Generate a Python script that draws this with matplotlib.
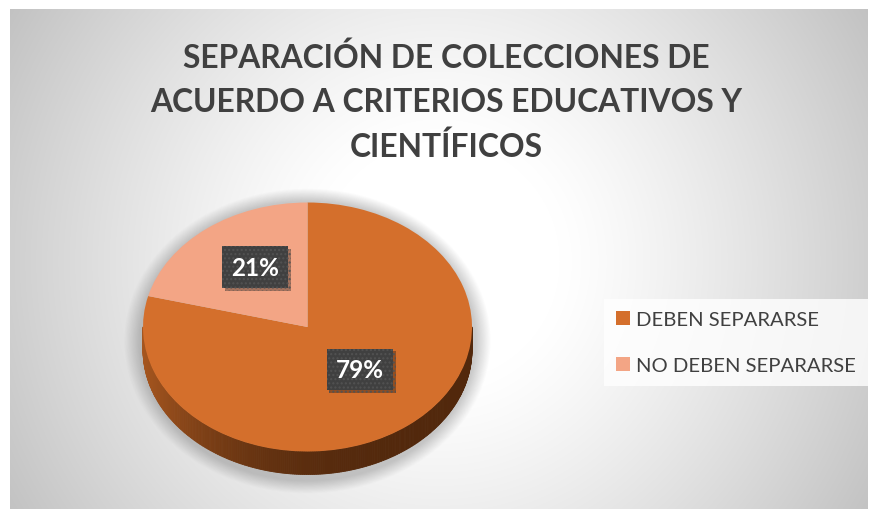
import numpy as np
import matplotlib
matplotlib.use("Agg")
import matplotlib.pyplot as plt
from matplotlib import patheffects as pe
from matplotlib.collections import PolyCollection
from matplotlib.colors import to_rgb

# ---------------- data ----------------
title_lines = ["SEPARACIÓN DE COLECCIONES DE",
               "ACUERDO A CRITERIOS EDUCATIVOS Y",
               "CIENTÍFICOS"]
categories = ["DEBEN SEPARARSE", "NO DEBEN SEPARARSE"]
values = [79, 21]

# ---------------- style ----------------
top_colors = ["#d46f2c", "#f3a585"]
side_dark = ["#52280c", "#8a4a33"]
side_light = ["#a6561f", "#c07a5e"]
text_color = "#404040"

plt.rcParams["font.family"] = ["Lato", "DejaVu Sans"]

W, H = 870, 510
fig = plt.figure(figsize=(W / 100, H / 100), dpi=100)
fig.patch.set_facecolor("white")

# ---------------- background (radial gradient chart area) ----------------
bx0, by0, bx1, by1 = 10, 10, 868, 510
bg = fig.add_axes([bx0 / W, 1 - by1 / H, (bx1 - bx0) / W, (by1 - by0) / H])
bg.set_axis_off()
yy, xx = np.mgrid[by0:by1, bx0:bx1].astype(float)
d = np.hypot(xx - 439, yy - 262)
t = np.clip((d - 120) / 380, 0, 1) ** 1.2
g = 1 - 0.24 * t
bg.imshow(np.dstack([g, g, g]), extent=(0, 1, 0, 1), aspect="auto",
          origin="upper", interpolation="bilinear")
bg.set_xlim(0, 1)
bg.set_ylim(0, 1)

# ---------------- pie axes ----------------
pcx, pcy, prx, pry = 307.5, 328.0, 164.5, 124.5   # top-face ellipse in pixels
depth = 23 / pry
ax_l, ax_r, ax_t, ax_b = 100, 515, 175, 505
pax = fig.add_axes([ax_l / W, 1 - ax_b / H, (ax_r - ax_l) / W, (ax_b - ax_t) / H])

wedges, texts, autotexts = pax.pie(
    values, colors=top_colors, startangle=90, counterclock=False,
    autopct=lambda p: f"{p:.0f}%", pctdistance=0.52,
    wedgeprops=dict(linewidth=0, antialiased=True, zorder=3),
    textprops=dict(color="white", fontsize=17.5, fontweight="bold"))
pax.set_aspect("auto")
pax.set_xlim((ax_l - pcx) / prx, (ax_r - pcx) / prx)
pax.set_ylim((pcy - ax_b) / pry, (pcy - ax_t) / pry)
pax.set_axis_off()
pax.patch.set_alpha(0)

# soft shadow below the pie
gx = np.linspace(*pax.get_xlim(), 400)
gy = np.linspace(*pax.get_ylim(), 400)
GX, GY = np.meshgrid(gx, gy)
r = np.hypot(GX * prx / 172.0, (GY * pry + 14) / 143.0)
alpha = 0.32 * np.clip((1.07 - r) / 0.09, 0, 1)
sh = np.zeros((400, 400, 4))
sh[..., :3] = 0.35
sh[..., 3] = alpha
pax.imshow(sh, extent=(gx[0], gx[-1], gy[0], gy[-1]), origin="lower",
           aspect="auto", zorder=1, interpolation="bilinear")

# 3-D side (rim) of each wedge, visible for the front half
for i, w in enumerate(wedges):
    ts = np.radians(np.linspace(w.theta1, w.theta2, 400))
    quads, cols = [], []
    dk, lt = np.array(to_rgb(side_dark[i])), np.array(to_rgb(side_light[i]))
    for a0, a1 in zip(ts[:-1], ts[1:]):
        if np.sin(a0) > 0 and np.sin(a1) > 0:
            continue
        s0, s1 = min(np.sin(a0), 0), min(np.sin(a1), 0)
        quads.append([(np.cos(a0), s0), (np.cos(a1), s1),
                      (np.cos(a1), s1 - depth), (np.cos(a0), s0 - depth)])
        f = ((1 - np.cos((a0 + a1) / 2)) / 2) ** 3.2
        cols.append(dk + (lt - dk) * f)
    if quads:
        pc = PolyCollection(quads, facecolors=cols, edgecolors=cols,
                            linewidths=0.6, zorder=2)
        pax.add_collection(pc)

# data labels
shifts = [0.07, 0.07]
for i, at in enumerate(autotexts):
    x, y = at.get_position()
    at.set_position((x, y + shifts[i]))
    at.set_zorder(5)
    at.set_bbox(dict(boxstyle="square,pad=0.38", facecolor="#404040",
                     edgecolor="#525252", linewidth=0, hatch="...."))
    at.get_bbox_patch().set_path_effects(
        [pe.SimplePatchShadow(offset=(2, -2), alpha=0.35), pe.Normal()])

# ---------------- title ----------------
baselines = [68, 112.5, 157]
for line, yb in zip(title_lines, baselines):
    fig.text(446 / W, 1 - yb / H, line, ha="center", va="baseline",
             fontsize=22.9, fontweight="bold", color=text_color)

# ---------------- legend ----------------
leg = fig.legend(wedges, categories, loc="upper left",
                 bbox_to_anchor=(604 / W, 1 - 300 / H),
                 fontsize=14.6, handlelength=0.7, handleheight=0.7,
                 handletextpad=0.3, labelspacing=1.42, borderpad=0.58,
                 borderaxespad=0, fancybox=False, frameon=True)
fr = leg.get_frame()
fr.set_facecolor((1, 1, 1, 0.4))
fr.set_edgecolor("none")
for txt in leg.get_texts():
    txt.set_color(text_color)

fig.savefig("out.png", dpi=100)
